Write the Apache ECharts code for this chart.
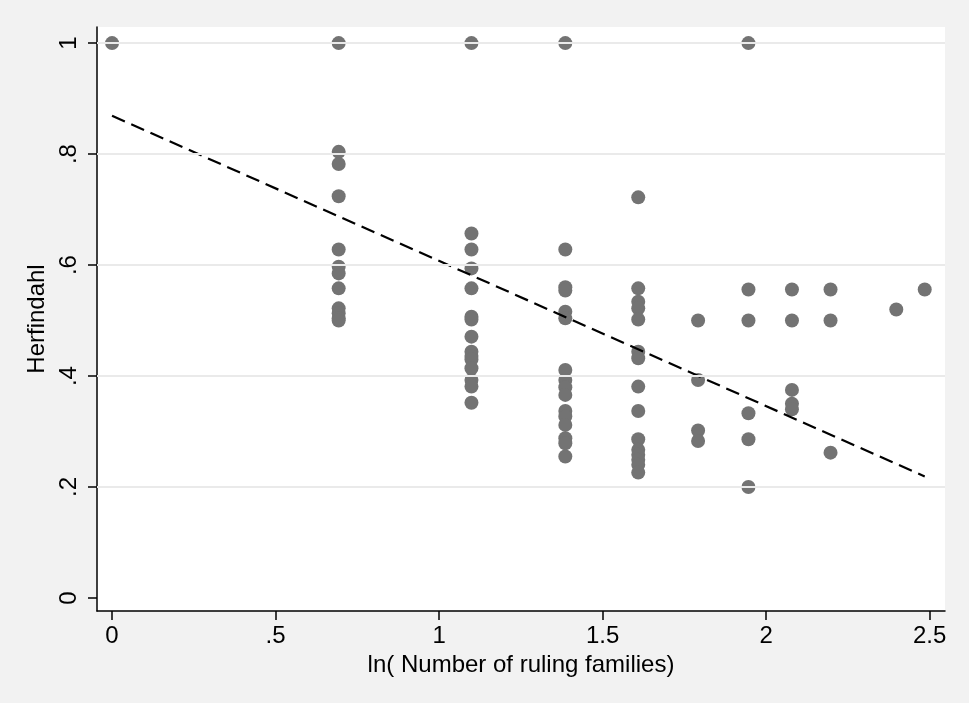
<!DOCTYPE html>
<html>
<head>
<meta charset="utf-8">
<script src="https://cdn.jsdelivr.net/npm/echarts@6/dist/echarts.min.js"></script>
<style>
html,body{margin:0;padding:0;background:#f2f2f2;}
#chart{width:969px;height:703px;}
</style>
</head>
<body>
<div id="chart"></div>
<script>
// ln(number of ruling families) for each column of points
const lnFamilies = [0, 0.693, 1.099, 1.386, 1.609, 1.792, 1.946, 2.079, 2.197, 2.398, 2.485];
// Herfindahl values observed at each ln(families) column
const herfByColumn = [
  [1],
  [1, 0.804, 0.782, 0.724, 0.628, 0.597, 0.585, 0.558, 0.522, 0.513, 0.504, 0.5],
  [1, 0.657, 0.628, 0.594, 0.558, 0.507, 0.502, 0.471, 0.444, 0.436, 0.43, 0.414, 0.393, 0.381, 0.352],
  [1, 0.628, 0.56, 0.554, 0.516, 0.504, 0.411, 0.393, 0.38, 0.366, 0.337, 0.327, 0.312, 0.288, 0.279, 0.255],
  [0.722, 0.558, 0.534, 0.522, 0.502, 0.444, 0.432, 0.381, 0.337, 0.286, 0.267, 0.258, 0.249, 0.240, 0.226],
  [0.5, 0.393, 0.302, 0.283],
  [1, 0.556, 0.5, 0.333, 0.286, 0.2],
  [0.556, 0.5, 0.375, 0.35, 0.34],
  [0.556, 0.5, 0.262],
  [0.52],
  [0.556]
];
// fitted regression line endpoints
const fitX = [0, 2.485];
const fitY = [0.869, 0.219];
// tick labels
const xTicks = [0, 0.5, 1, 1.5, 2, 2.5];
const xTickLabels = ['0', '.5', '1', '1.5', '2', '2.5'];
const yTicks = [0, 0.2, 0.4, 0.6, 0.8, 1];
const yTickLabels = ['0', '.2', '.4', '.6', '.8', '1'];
const yGrid = [0.2, 0.4, 0.6, 0.8, 1];

const points = [];
lnFamilies.forEach((x, i) => herfByColumn[i].forEach(y => points.push([x, y])));
const fitData = fitX.map((x, i) => [x, fitY[i]]);

function lookup(ticks, labels, v) {
  for (let i = 0; i < ticks.length; i++) if (Math.abs(ticks[i] - v) < 1e-6) return labels[i];
  return '';
}

const FONT = 'Liberation Sans';
const chart = echarts.init(document.getElementById('chart'), null, {renderer: 'canvas'});
chart.setOption({
  backgroundColor: '#f2f2f2',
  animation: false,
  grid: {left: 97, right: 24, top: 27, bottom: 92, show: true, backgroundColor: '#ffffff', borderWidth: 0},
  xAxis: {
    type: 'value', min: -0.046, max: 2.547,
    name: 'ln( Number of ruling families)', nameLocation: 'middle', nameGap: 41,
    nameTextStyle: {fontFamily: FONT, fontSize: 24, color: '#000'},
    axisLine: {show: true, onZero: false, lineStyle: {color: '#000', width: 1.5}},
    axisTick: {show: true, length: 9, customValues: xTicks, lineStyle: {color: '#000', width: 1.5}},
    axisLabel: {
      customValues: xTicks, margin: 13, fontFamily: FONT, fontSize: 24, color: '#000',
      formatter: v => lookup(xTicks, xTickLabels, v)
    },
    splitLine: {show: false}
  },
  yAxis: {
    type: 'value', min: -0.0234, max: 1.029,
    name: 'Herfindahl', nameLocation: 'middle', nameGap: 45, nameRotate: 90,
    nameTextStyle: {fontFamily: FONT, fontSize: 24, color: '#000'},
    axisLine: {show: true, onZero: false, lineStyle: {color: '#000', width: 1.5}},
    axisTick: {show: true, length: 9, customValues: yTicks, lineStyle: {color: '#000', width: 1.5}},
    axisLabel: {
      customValues: yTicks, rotate: 90, margin: 16, fontFamily: FONT, fontSize: 24, color: '#000',
      formatter: v => lookup(yTicks, yTickLabels, v)
    },
    splitLine: {show: false}
  },
  series: [
    {
      type: 'line', data: [], z: 1, silent: true,
      markLine: {
        silent: true, symbol: ['none', 'none'], label: {show: false},
        lineStyle: {color: '#eaeaea', width: 2, type: 'solid'},
        data: yGrid.map(v => ({yAxis: v}))
      }
    },
    {
      type: 'scatter', data: points, z: 3, symbol: 'circle', symbolSize: 14,
      itemStyle: {color: '#737373', opacity: 1}
    },
    {
      type: 'line', data: fitData, z: 4, symbol: 'none', silent: true,
      lineStyle: {color: '#000', width: 2.2, type: [14, 7]}
    }
  ]
});
</script>
</body>
</html>
